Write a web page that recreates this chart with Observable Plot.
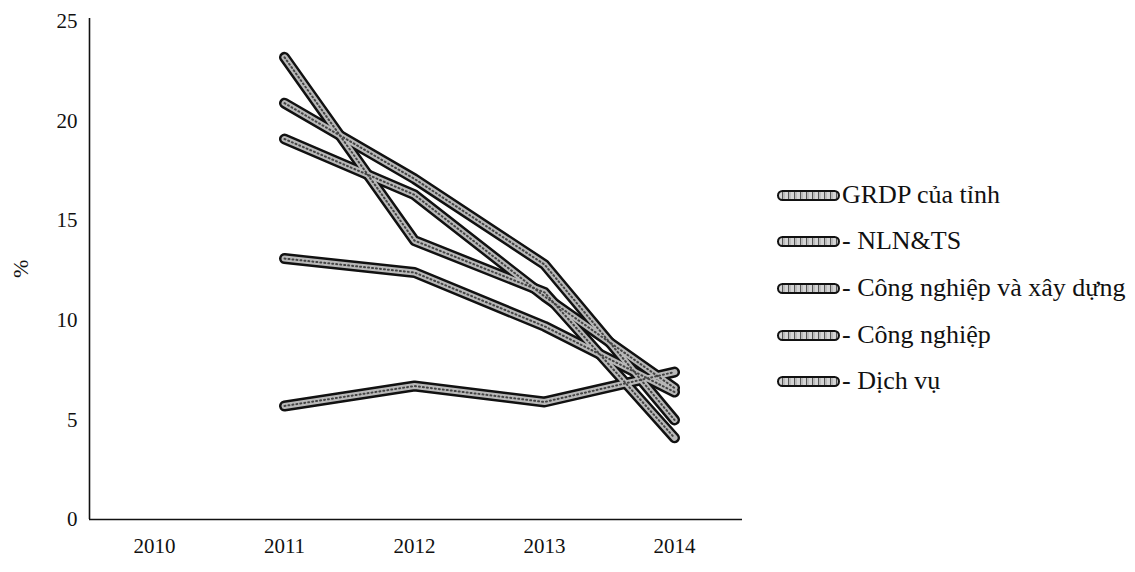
<!DOCTYPE html>
<html><head><meta charset="utf-8">
<script src="https://cdn.jsdelivr.net/npm/d3@7"></script>
<script src="https://cdn.jsdelivr.net/npm/@observablehq/plot@0.6"></script>
<style>
body{margin:0;background:#fff;font-family:"Liberation Serif","Times New Roman","DejaVu Serif",serif;}
#wrap{position:relative;width:1135px;height:572px;overflow:hidden;}
#wrap svg text{font-family:"Liberation Serif","Times New Roman","DejaVu Serif",serif;}
#legend{position:absolute;left:777px;top:0;}
.row{position:absolute;left:0;display:flex;align-items:center;white-space:nowrap;font-size:26px;color:#111;transform:translateY(-50%);}
.sw{box-sizing:border-box;width:63px;height:11px;border:2.5px solid #111;border-radius:6px;margin-right:2px;
 background:repeating-linear-gradient(90deg,#d4d4d4 0 3px,#555 3px 4px,#bbb 4px 6px);}
</style></head><body><div id="wrap"></div>
<script>
const years = [2011, 2012, 2013, 2014];
const seriesNames = ["GRDP của tỉnh", "- NLN&TS", "- Công nghiệp và xây dựng", "- Công nghiệp", "- Dịch vụ"];
const grdp = [19.1, 16.3, 11.2, 6.6];
const nln  = [5.7, 6.7, 5.9, 7.4];
const cnxd = [20.9, 17.1, 12.8, 5.0];
const cn   = [23.2, 14.0, 11.4, 4.1];
const dv   = [13.1, 12.4, 9.7, 6.4];
const xTicks = [2010, 2011, 2012, 2013, 2014];
const yTicks = [0, 5, 10, 15, 20, 25];
const yLabel = "%";

const series = [grdp, nln, cnxd, cn, dv];
const rows = [];
series.forEach((vals, i) => vals.forEach((v, j) => rows.push({name: seriesNames[i], year: years[j], value: v})));

const xDomain = [2009.5, 2014.523];
const lineOpts = {x: "year", y: "value", z: "name", strokeLinecap: "round", strokeLinejoin: "round"};

const plot = Plot.plot({
  width: 1135, height: 572,
  marginLeft: 89, marginRight: 393, marginTop: 18, marginBottom: 53,
  style: {fontFamily: "'Liberation Serif', 'Times New Roman', 'DejaVu Serif', serif", fontSize: "21px", color: "#111", background: "#fff"},
  x: {type: "linear", domain: xDomain, label: null},
  y: {domain: [0, 25.15], label: null},
  marks: [
    Plot.axisX({ticks: xTicks, tickFormat: d => String(d), tickSize: 0, tickPadding: 19, fontSize: 21, label: null}),
    Plot.axisY({ticks: yTicks, tickSize: 0, tickPadding: 12, fontSize: 21, label: null}),
    Plot.ruleX([xDomain[0]], {stroke: "#111", strokeWidth: 1.6}),
    Plot.ruleY([0], {stroke: "#111", strokeWidth: 1.6}),
    Plot.line(rows, {...lineOpts, stroke: "#111", strokeWidth: 11}),
    Plot.line(rows, {...lineOpts, stroke: "#b8b8b8", strokeWidth: 6}),
    Plot.line(rows, {...lineOpts, stroke: "#444", strokeWidth: 2, strokeDasharray: "1 3"}),
    Plot.text([yLabel], {frameAnchor: "left", dx: -69, dy: 9, rotate: -90, fontSize: 22, fill: "#111"})
  ]
});
const wrap = document.getElementById("wrap");
wrap.appendChild(plot);

const legend = document.createElement("div");
legend.id = "legend";
const rowY = [195, 241, 288, 335, 381];
seriesNames.forEach((n, i) => {
  const r = document.createElement("div");
  r.className = "row";
  r.style.top = rowY[i] + "px";
  const sw = document.createElement("span");
  sw.className = "sw";
  const t = document.createElement("span");
  t.textContent = n;
  r.appendChild(sw); r.appendChild(t);
  legend.appendChild(r);
});
wrap.appendChild(legend);
</script></body></html>
